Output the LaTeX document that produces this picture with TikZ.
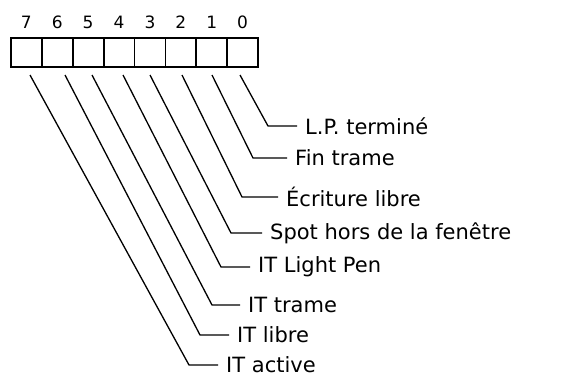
\documentclass[tikz,border=0pt]{standalone}
\usepackage{fontspec}
\setmainfont{DejaVu Sans}
\usetikzlibrary{positioning}

\begin{document}
\begin{tikzpicture}[x=1pt,y=-1pt,
      cell/.style={draw,line width=1.8pt,minimum width=30.9pt,minimum height=29pt,inner sep=0pt,anchor=north west},
      bitnum/.style={inner sep=0pt,font=\fontsize{17}{20}\selectfont},
      wire/.style={line width=1.3pt},
      flag/.style={anchor=west,inner xsep=8pt,inner ysep=0pt,font=\fontsize{21}{24}\selectfont}]
      \useasboundingbox (0,0) rectangle (586,380);
      % register cells and bit numbers
      \foreach \b in {7,...,0} {
        \node[cell] (c\b) at ({10+(7-\b)*30.9},37) {};
        \node[bitnum,above=8pt of c\b] (n\b) {\b};
      }
      % one wire per bit
      \foreach \b/\sx/\kx/\ky/\ex/\txt in {
          0/240/268/126/297/L.P. terminé,
          1/212/253/158/287/Fin trame,
          2/182/242/197/278/Écriture libre,
          3/150/231/233/262/Spot hors de la fenêtre,
          4/123/221/267/250/IT Light Pen,
          5/92/212/305/240/IT trame,
          6/65/200/335/229/IT libre,
          7/30/189/365/218/IT active} {
        \coordinate (s\b) at (\sx,75);
        \coordinate (k\b) at (\kx,\ky);
        \node[flag] (f\b) at (\ex,\ky) {\txt};
        \draw[wire] (s\b) -- (k\b) -- (f\b.west);
      }
    \end{tikzpicture}
\end{document}
